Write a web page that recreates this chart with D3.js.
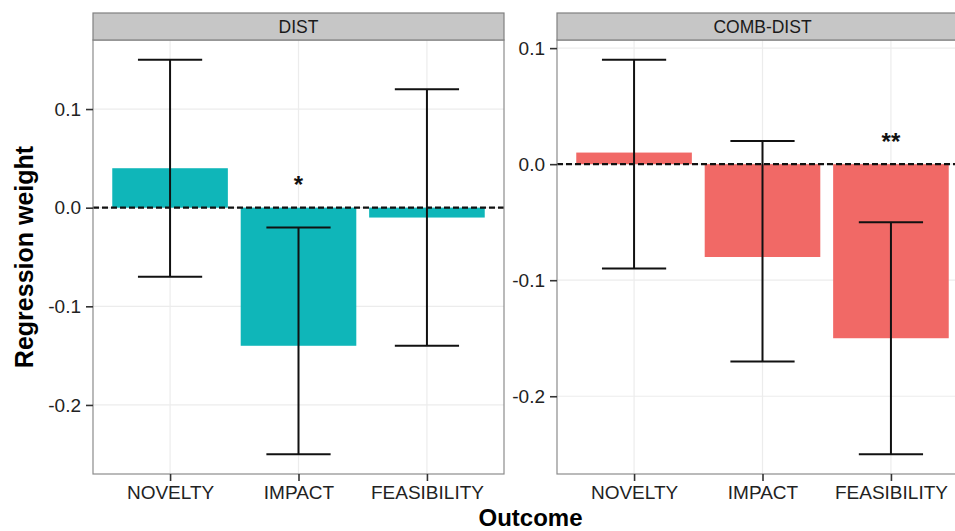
<!DOCTYPE html>
<html>
<head>
<meta charset="utf-8">
<script src="https://cdn.jsdelivr.net/npm/d3@7"></script>
<style>
  body { margin: 0; background: #fff; overflow: hidden; }
  svg { display: block; font-family: "Liberation Sans", Arial, sans-serif; }
</style>
</head>
<body>
<script>
// data
const outcomes = ["NOVELTY", "IMPACT", "FEASIBILITY"];
const panelNames = ["DIST", "COMB-DIST"];

const distWeight = [0.04, -0.14, -0.01];
const distLower = [-0.07, -0.25, -0.14];
const distUpper = [0.15, -0.02, 0.12];
const distStars = ["", "*", ""];

const combWeight = [0.01, -0.08, -0.15];
const combLower = [-0.09, -0.17, -0.25];
const combUpper = [0.09, 0.02, -0.05];
const combStars = ["", "", "**"];

const starY = [0.015, 0.012];
const yTicks = [-0.2, -0.1, 0.0, 0.1];
const fills = ["#0fb6b9", "#f16966"];

const w = 955;
const h = 531;
const panelTop = 40;
const panelBottom = 474;
const panelX = [[93, 504], [557, 968]];

const svg = d3.select("body")
  .append("svg")
  .attr("width", w)
  .attr("height", h);

const panels = [
  { name: panelNames[0], weight: distWeight, lower: distLower, upper: distUpper, stars: distStars },
  { name: panelNames[1], weight: combWeight, lower: combLower, upper: combUpper, stars: combStars }
];

panels.forEach(function(p, k) {
  const x0 = panelX[k][0], x1 = panelX[k][1];

  // ggplot style free y scale, 5% expansion
  const lo = d3.min(p.lower), hi = d3.max(p.upper);
  const pad = (hi - lo) * 0.05;
  const y = d3.scaleLinear()
    .domain([lo - pad, hi + pad])
    .range([panelBottom, panelTop]);
  const x = d3.scalePoint()
    .domain(outcomes)
    .range([x0, x1])
    .padding(0.6);
  const step = x.step();

  const g = svg.append("g");

  // panel background
  g.append("rect")
    .attr("x", x0).attr("y", panelTop)
    .attr("width", x1 - x0).attr("height", panelBottom - panelTop)
    .attr("fill", "#fff");

  // grid lines
  g.selectAll(".hgrid")
    .data(yTicks)
    .enter()
    .append("line")
    .attr("x1", x0).attr("x2", x1)
    .attr("y1", d => y(d)).attr("y2", d => y(d))
    .attr("stroke", "#ececec")
    .attr("stroke-width", 1.2);
  g.selectAll(".vgrid")
    .data(outcomes)
    .enter()
    .append("line")
    .attr("x1", d => x(d)).attr("x2", d => x(d))
    .attr("y1", panelTop).attr("y2", panelBottom)
    .attr("stroke", "#ececec")
    .attr("stroke-width", 1.2);

  // bars
  g.selectAll(".bar")
    .data(outcomes)
    .enter()
    .append("rect")
    .attr("x", d => x(d) - step * 0.45)
    .attr("width", step * 0.9)
    .attr("y", (d, i) => y(Math.max(0, p.weight[i])))
    .attr("height", (d, i) => Math.abs(y(p.weight[i]) - y(0)))
    .attr("fill", fills[k]);

  // dashed zero line
  g.append("line")
    .attr("x1", x0).attr("x2", x1)
    .attr("y1", y(0)).attr("y2", y(0))
    .attr("stroke", "#111")
    .attr("stroke-width", 2.2)
    .attr("stroke-dasharray", "6,3");

  // error bars
  const eb = g.selectAll(".err")
    .data(outcomes)
    .enter()
    .append("g");
  eb.append("line")
    .attr("x1", d => x(d)).attr("x2", d => x(d))
    .attr("y1", (d, i) => y(p.upper[i])).attr("y2", (d, i) => y(p.lower[i]));
  eb.append("line")
    .attr("x1", d => x(d) - step * 0.25).attr("x2", d => x(d) + step * 0.25)
    .attr("y1", (d, i) => y(p.upper[i])).attr("y2", (d, i) => y(p.upper[i]));
  eb.append("line")
    .attr("x1", d => x(d) - step * 0.25).attr("x2", d => x(d) + step * 0.25)
    .attr("y1", (d, i) => y(p.lower[i])).attr("y2", (d, i) => y(p.lower[i]));
  eb.selectAll("line")
    .attr("stroke", "#111")
    .attr("stroke-width", 2);

  // significance stars
  g.selectAll(".star")
    .data(outcomes)
    .enter()
    .append("text")
    .attr("x", d => x(d))
    .attr("y", y(starY[k]))
    .attr("text-anchor", "middle")
    .attr("font-size", 24)
    .attr("font-weight", "bold")
    .attr("fill", "#111")
    .text((d, i) => p.stars[i]);

  // panel border
  g.append("rect")
    .attr("x", x0).attr("y", panelTop)
    .attr("width", x1 - x0).attr("height", panelBottom - panelTop)
    .attr("fill", "none")
    .attr("stroke", "#8c8c8c")
    .attr("stroke-width", 1.2);

  // strip
  g.append("rect")
    .attr("x", x0).attr("y", 13)
    .attr("width", x1 - x0).attr("height", panelTop - 13)
    .attr("fill", "#c6c6c6")
    .attr("stroke", "#808080")
    .attr("stroke-width", 1.2);
  g.append("text")
    .attr("x", (x0 + x1) / 2)
    .attr("y", 33)
    .attr("text-anchor", "middle")
    .attr("font-size", 17.5)
    .attr("fill", "#1a1a1a")
    .text(p.name);

  // axes
  const yAxis = d3.axisLeft(y)
    .tickValues(yTicks)
    .tickFormat(d => d.toFixed(1))
    .tickSize(7)
    .tickPadding(5);
  const ya = g.append("g")
    .attr("transform", "translate(" + x0 + ",0)")
    .call(yAxis);

  const xAxis = d3.axisBottom(x)
    .tickSize(7)
    .tickPadding(5);
  const xa = g.append("g")
    .attr("transform", "translate(0," + panelBottom + ")")
    .call(xAxis);

  [ya, xa].forEach(function(a) {
    a.select(".domain").remove();
    a.selectAll(".tick line").attr("stroke", "#333").attr("stroke-width", 1.6);
    a.selectAll(".tick text")
      .attr("fill", "#222")
      .attr("font-size", 19)
      .attr("font-family", "Liberation Sans, Arial, sans-serif");
  });
});

// axis titles
svg.append("text")
  .attr("transform", "translate(33," + (panelTop + panelBottom) / 2 + ") rotate(-90)")
  .attr("text-anchor", "middle")
  .attr("font-size", 25)
  .attr("font-weight", "bold")
  .attr("fill", "#000")
  .text("Regression weight");

svg.append("text")
  .attr("x", (panelX[0][0] + panelX[1][1]) / 2)
  .attr("y", 526)
  .attr("text-anchor", "middle")
  .attr("font-size", 24)
  .attr("font-weight", "bold")
  .attr("fill", "#000")
  .text("Outcome");
</script>
</body>
</html>
